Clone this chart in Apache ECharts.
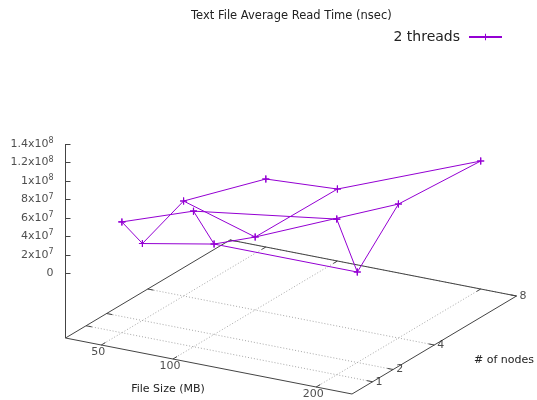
<!DOCTYPE html>
<html>
<head>
<meta charset="utf-8">
<script src="https://cdn.jsdelivr.net/npm/echarts@6/dist/echarts.min.js"></script>
<style>
  html, body { margin: 0; padding: 0; background: #fff; }
  #chart { width: 537px; height: 400px; }
</style>
</head>
<body>
<div id="chart"></div>
<script>
// data: average read time (nsec), one array per file size, indexed by node count
const fileSizes = [50, 100, 200];
const nodeCounts = [1, 2, 4, 8];
const readTime50 = [5.0e7, 1.33e7, 3.28e7, 0.36e7];
const readTime100 = [7.68e7, 2.79e7, 0.9e7, 0.79e7];
const readTime200 = [9.85e7, 2.79e7, 7.5e7, 6.85e7];
const readTimes = [readTime50, readTime100, readTime200];

const zTicks = [0, 2e7, 4e7, 6e7, 8e7, 1e8, 1.2e8, 1.4e8];
const zTickLabels = ['0', '2x10{sup|7}', '4x10{sup|7}', '6x10{sup|7}', '8x10{sup|7}',
  '1x10{sup|8}', '1.2x10{sup|8}', '1.4x10{sup|8}'];

const xRange = [25, 225];
const yRange = [0, 8];
const zRange = [0, 1.4e8];
const ticsLevel = 0.5;

const FONT = 'DejaVu Sans';
const PURPLE = '#9400d3';
const CROSS = 'path://M0,4.2H10V5.8H0Z M4.2,0H5.8V10H4.2Z';

// gnuplot-like orthographic view, written as an affine map onto the page
const view = { origin: [65.5, 338], xEdge: [286.5, 56], yEdge: [164.5, -98], zHeight: 194 };
const zBase = zRange[0] - ticsLevel * (zRange[1] - zRange[0]);

function proj(x, y, z) {
  const u = (x - xRange[0]) / (xRange[1] - xRange[0]);
  const v = (y - yRange[0]) / (yRange[1] - yRange[0]);
  const w = (z - zBase) / (zRange[1] - zBase);
  return [
    view.origin[0] + u * view.xEdge[0] + v * view.yEdge[0],
    view.origin[1] + u * view.xEdge[1] + v * view.yEdge[1] - w * view.zHeight,
  ];
}

const [x0, x1] = xRange;
const [y0, y1] = yRange;
const seg = (a, b) => ({ coords: [proj(...a), proj(...b)] });

// base grid (dotted)
const gridSegs = [
  ...fileSizes.map((x) => seg([x, y0, zBase], [x, y1, zBase])),
  ...nodeCounts.map((y) => seg([x0, y, zBase], [x1, y, zBase])),
];

// border: base rectangle and the vertical z axis
const borderSegs = [
  seg([x0, y0, zBase], [x1, y0, zBase]),
  seg([x1, y0, zBase], [x1, y1, zBase]),
  seg([x1, y1, zBase], [x0, y1, zBase]),
  seg([x0, y1, zBase], [x0, y0, zBase]),
  seg([x0, y0, zBase], [x0, y0, zRange[1]]),
];

// tic marks
const xTic = 0.025 * (y1 - y0);
const yTic = 0.02 * (x1 - x0);
const ticSegs = [
  ...fileSizes.map((x) => seg([x, y0, zBase], [x, y0 + xTic, zBase])),
  ...fileSizes.map((x) => seg([x, y1, zBase], [x, y1 - xTic, zBase])),
  ...nodeCounts.map((y) => seg([x1, y, zBase], [x1 - yTic, y, zBase])),
  ...nodeCounts.map((y) => seg([x0, y, zBase], [x0 + yTic, y, zBase])),
  ...zTicks.map((z) => {
    const p = proj(x0, y0, z);
    return { coords: [p, [p[0] + 5, p[1]]] };
  }),
];

// surface mesh: one polyline per file size and one per node count
const meshLines = [
  ...fileSizes.map((x, i) => nodeCounts.map((y, j) => proj(x, y, readTimes[i][j]))),
  ...nodeCounts.map((y, j) => fileSizes.map((x, i) => proj(x, y, readTimes[i][j]))),
];

const textStyle = { color: '#222', fontFamily: FONT, fontSize: 11 };

const chart = echarts.init(document.getElementById('chart'));
chart.setOption({
  animation: false,
  backgroundColor: '#fff',
  title: {
    text: 'Text File Average Read Time (nsec)',
    left: 191, top: 10, padding: 0,
    textStyle: { ...textStyle, fontSize: 11.5, fontWeight: 'normal' },
  },
  legend: {
    data: ['2 threads'],
    right: 29, top: 25,
    align: 'right',
    itemWidth: 33, itemHeight: 8,
    textStyle: { color: '#222', fontFamily: FONT, fontSize: 14, padding: [0, 4, 0, 0] },
  },
  grid: { left: 0, right: 0, top: 0, bottom: 0 },
  xAxis: { type: 'value', min: 0, max: 537, show: false },
  yAxis: { type: 'value', min: 0, max: 400, inverse: true, show: false },
  graphic: [
    { type: 'text', x: 168, y: 389, style: { text: 'File Size (MB)', align: 'center', verticalAlign: 'middle', fill: '#222', font: `11px "${FONT}"` } },
    { type: 'text', x: 504, y: 360, style: { text: '# of nodes', align: 'center', verticalAlign: 'middle', fill: '#222', font: `11px "${FONT}"` } },
  ],
  series: [
    {
      type: 'lines', coordinateSystem: 'cartesian2d', silent: true,
      lineStyle: { color: '#a8a8a8', width: 1, type: [1, 2], opacity: 1 },
      data: gridSegs,
    },
    {
      type: 'lines', coordinateSystem: 'cartesian2d', silent: true,
      lineStyle: { color: '#444', width: 1, opacity: 1 },
      data: [...borderSegs, ...ticSegs],
    },
    ...meshLines.map((pts) => ({
      name: '2 threads',
      type: 'line',
      data: pts,
      symbol: CROSS,
      symbolSize: 7,
      showSymbol: true,
      lineStyle: { color: PURPLE, width: 1 },
      itemStyle: { color: PURPLE },
      silent: true,
      z: 5,
    })),
    {
      type: 'scatter', symbolSize: 0, silent: true,
      data: zTicks.map((z, i) => ({ value: proj(x0, y0, z), label: { formatter: zTickLabels[i] } })),
      label: {
        show: true, position: 'left', distance: 12, ...textStyle,
        rich: { sup: { fontFamily: FONT, fontSize: 8, color: '#222', verticalAlign: 'top', padding: [0, 0, 6, 0] } },
      },
    },
    {
      type: 'scatter', symbolSize: 0, silent: true,
      data: fileSizes.map((x) => ({ value: proj(x, y0, zBase), label: { formatter: String(x) } })),
      label: { show: true, position: 'inside', offset: [-3, 7], ...textStyle },
    },
    {
      type: 'scatter', symbolSize: 0, silent: true,
      data: nodeCounts.map((y) => ({ value: proj(x1, y, zBase), label: { formatter: String(y) } })),
      label: { show: true, position: 'right', distance: 3, ...textStyle },
    },
  ],
});
</script>
</body>
</html>
